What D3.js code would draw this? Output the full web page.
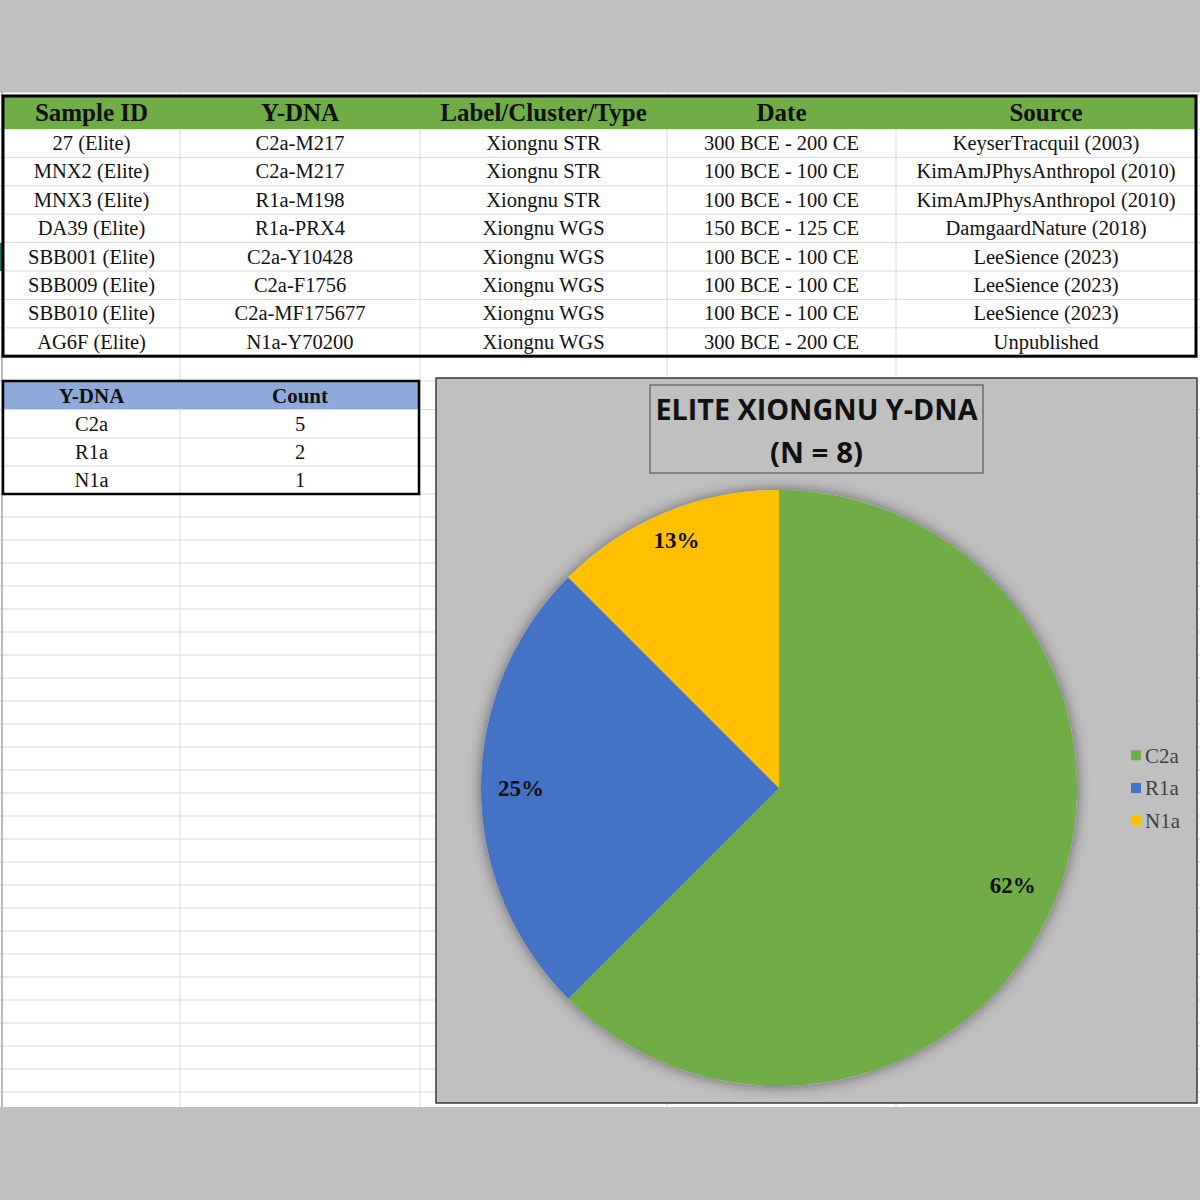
<!DOCTYPE html>
<html><head><meta charset="utf-8">
<script src="https://cdn.jsdelivr.net/npm/d3@7"></script>
<style>body{margin:0;background:#c0c0c0}svg{display:block}</style>
</head><body>
<script>
// ---- data ----
const headers = ["Sample ID","Y-DNA","Label/Cluster/Type","Date","Source"];
const sampleIds = ["27 (Elite)","MNX2 (Elite)","MNX3 (Elite)","DA39 (Elite)","SBB001 (Elite)","SBB009 (Elite)","SBB010 (Elite)","AG6F (Elite)"];
const yDna = ["C2a-M217","C2a-M217","R1a-M198","R1a-PRX4","C2a-Y10428","C2a-F1756","C2a-MF175677","N1a-Y70200"];
const labels = ["Xiongnu STR","Xiongnu STR","Xiongnu STR","Xiongnu WGS","Xiongnu WGS","Xiongnu WGS","Xiongnu WGS","Xiongnu WGS"];
const dates = ["300 BCE - 200 CE","100 BCE - 100 CE","100 BCE - 100 CE","150 BCE - 125 CE","100 BCE - 100 CE","100 BCE - 100 CE","100 BCE - 100 CE","300 BCE - 200 CE"];
const sources = ["KeyserTracquil (2003)","KimAmJPhysAnthropol (2010)","KimAmJPhysAnthropol (2010)","DamgaardNature (2018)","LeeSience (2023)","LeeSience (2023)","LeeSience (2023)","Unpublished"];
const countHeaders = ["Y-DNA","Count"];
const haplogroups = ["C2a","R1a","N1a"];
const counts = [5,2,1];
const percentLabels = ["62%","25%","13%"];
const pieColors = ["#70ad47","#4472c4","#ffc000"];
const chartTitle = ["ELITE XIONGNU Y-DNA","(N = 8)"];

// ---- layout ----
const W=1200,H=1200;
const svg=d3.select("body").append("svg").attr("width",W).attr("height",H);
const defs=svg.append("defs");
const f=defs.append("filter").attr("id","sh").attr("x","-20%").attr("y","-20%").attr("width","140%").attr("height","140%");
f.append("feDropShadow").attr("dx",0).attr("dy",0).attr("stdDeviation",7).attr("flood-color","#000").attr("flood-opacity",0.5);

svg.append("rect").attr("width",W).attr("height",H).attr("fill","#c0c0c0");
const sheetTop=92, sheetBot=1107;
svg.append("rect").attr("x",0).attr("y",sheetTop).attr("width",W).attr("height",sheetBot-sheetTop).attr("fill","#fff");
svg.append("line").attr("x1",0).attr("x2",W).attr("y1",sheetTop+0.5).attr("y2",sheetTop+0.5).attr("stroke","#e0e0e0");

const colX=[3,180,420,667,896,1196];
const mainRows=d3.range(9).map(i=>129+i*28.4);
const rowLines=[95,...mainRows,381,409.5,438,466,494];
for(let y=517;y<sheetBot;y+=23) rowLines.push(y);
const grid=svg.append("g").attr("stroke","#d9d9d9").attr("stroke-width",1);
rowLines.forEach(y=>grid.append("line").attr("x1",0).attr("x2",W).attr("y1",y).attr("y2",y));
colX.slice(1,5).forEach(x=>grid.append("line").attr("x1",x).attr("x2",x).attr("y1",sheetTop).attr("y2",sheetBot));
svg.append("line").attr("x1",2).attr("x2",2).attr("y1",sheetTop).attr("y2",sheetBot).attr("stroke","#a6a6a6").attr("stroke-width",1.5);
svg.append("rect").attr("x",0).attr("y",243).attr("width",3).attr("height",28).attr("fill","#217346");

const serif="Liberation Serif, Times New Roman, serif";
// main table
const x0=colX[0];
svg.append("rect").attr("x",x0).attr("y",97).attr("width",colX[5]-x0).attr("height",32).attr("fill","#70ad47");
headers.forEach((h,i)=>svg.append("text").attr("x",(colX[i]+colX[i+1])/2).attr("y",121)
  .attr("text-anchor","middle").attr("font-family",serif)
  .attr("font-weight","bold").attr("font-size",25).attr("fill","#111").text(h));
const cols=[sampleIds,yDna,labels,dates,sources];
cols.forEach((arr,c)=>arr.forEach((v,r)=>{
  svg.append("text").attr("x",(colX[c]+colX[c+1])/2).attr("y",mainRows[r]+21)
   .attr("text-anchor","middle").attr("font-family",serif)
   .attr("font-size",20.5).attr("fill","#111").text(v);
}));
svg.append("rect").attr("x",x0).attr("y",96).attr("width",colX[5]-x0).attr("height",mainRows[8]-96)
  .attr("fill","none").attr("stroke","#000").attr("stroke-width",3);

// count table
svg.append("rect").attr("x",x0).attr("y",382).attr("width",colX[2]-x0).attr("height",27).attr("fill","#8eaadb");
countHeaders.forEach((h,i)=>svg.append("text").attr("x",(colX[i]+colX[i+1])/2).attr("y",403)
  .attr("text-anchor","middle").attr("font-family",serif)
  .attr("font-weight","bold").attr("font-size",21).attr("fill","#111").text(h));
const cRows=[409.5,438,466];
haplogroups.forEach((g,r)=>{
  svg.append("text").attr("x",(colX[0]+colX[1])/2).attr("y",cRows[r]+21).attr("text-anchor","middle")
   .attr("font-family",serif).attr("font-size",20.5).attr("fill","#111").text(g);
  svg.append("text").attr("x",(colX[1]+colX[2])/2).attr("y",cRows[r]+21).attr("text-anchor","middle")
   .attr("font-family",serif).attr("font-size",20.5).attr("fill","#111").text(counts[r]);
});
svg.append("rect").attr("x",x0).attr("y",381).attr("width",colX[2]-x0-1).attr("height",494-381)
  .attr("fill","none").attr("stroke","#000").attr("stroke-width",2.5);

// chart area
const cx0=436, cy0=378, cx1=1197, cy1=1103;
svg.append("rect").attr("x",cx0).attr("y",cy0).attr("width",cx1-cx0).attr("height",cy1-cy0)
  .attr("fill","#c0c0c0").attr("stroke","#3a3a3a").attr("stroke-width",1.5);
svg.append("rect").attr("x",650).attr("y",385).attr("width",333).attr("height",88)
  .attr("fill","none").attr("stroke","#595959").attr("stroke-width",1.2);
chartTitle.forEach((t,i)=>{
  const tx=svg.append("text").attr("x",816.5).attr("y",420+i*43).attr("text-anchor","middle")
   .attr("font-family","Open Sans, Lato, sans-serif").attr("font-weight","bold").attr("font-size",29).attr("fill","#111").text(t);
  if(i===0) tx.attr("textLength",322).attr("lengthAdjust","spacingAndGlyphs");
  else tx.attr("textLength",93).attr("lengthAdjust","spacingAndGlyphs");
});

const R=298, pcx=779, pcy=788;
const data=haplogroups.map((g,i)=>({g,v:counts[i],c:pieColors[i],p:percentLabels[i]}));
const pie=d3.pie().value(d=>d.v).sort(null);
const arc=d3.arc().innerRadius(0).outerRadius(R);
const pg=svg.append("g").attr("transform",`translate(${pcx},${pcy})`);
pg.append("circle").attr("r",R).attr("fill","#c0c0c0").attr("filter","url(#sh)");
const arcs=pie(data);
pg.selectAll("path.s").data(arcs).join("path").attr("class","s").attr("d",arc).attr("fill",d=>d.data.c);
const labelR=[253,258,268];
pg.selectAll("text.l").data(arcs).join("text").attr("class","l")
  .attr("transform",(d,i)=>{const a=(d.startAngle+d.endAngle)/2;return `translate(${Math.sin(a)*labelR[i]},${-Math.cos(a)*labelR[i]})`;})
  .attr("text-anchor","middle").attr("dy","0.35em")
  .attr("font-family",serif).attr("font-weight","bold").attr("font-size",23).attr("fill","#111")
  .text(d=>d.data.p);

// legend
const ly=d3.scaleBand().domain(haplogroups).range([739,837]);
const lg=svg.append("g");
haplogroups.forEach((g,i)=>{
  const y=ly(g)+ly.bandwidth()/2;
  lg.append("rect").attr("x",1131).attr("y",y-5).attr("width",10).attr("height",10).attr("fill",pieColors[i]);
  lg.append("text").attr("x",1145).attr("y",y).attr("dy","0.35em").attr("font-family",serif)
   .attr("font-size",21).attr("fill","#404040").text(g);
});
</script>
</body></html>
